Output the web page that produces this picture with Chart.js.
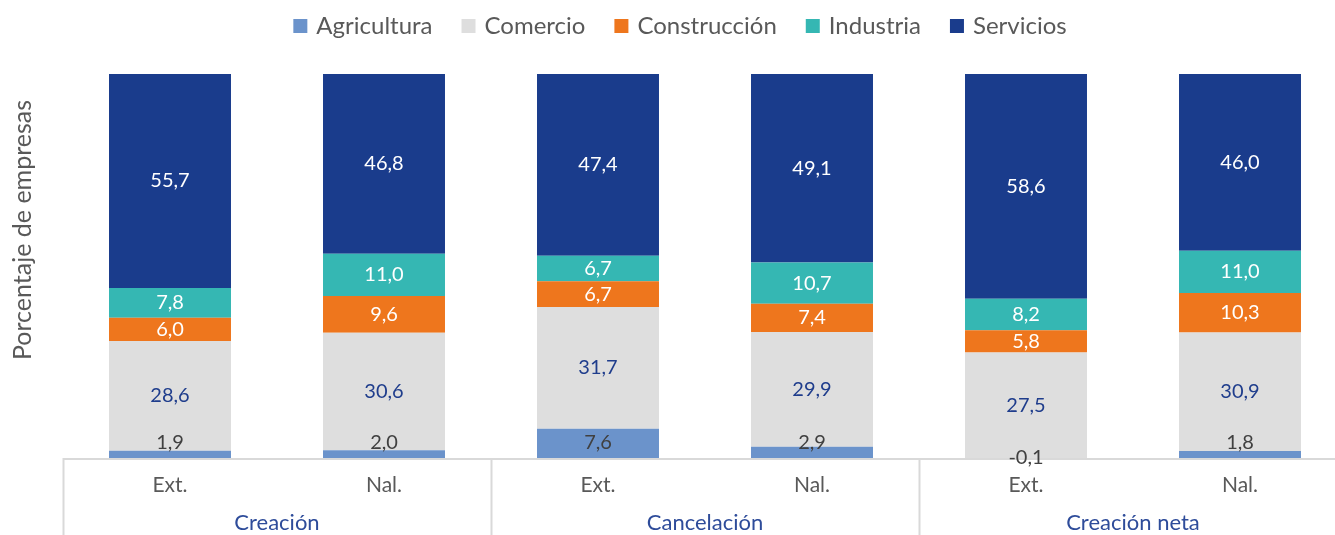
<!DOCTYPE html>
<html>
<head>
<meta charset="utf-8">
<script src="https://cdn.jsdelivr.net/npm/chart.js@4"></script>
<style>
html,body{margin:0;padding:0;background:#fff;overflow:hidden;}
#wrap{width:1348px;height:535px;position:relative;}
</style>
</head>
<body>
<div id="wrap"><canvas id="c" width="1348" height="535"></canvas></div>
<script>
const categories = ['Ext.', 'Nal.', 'Ext.', 'Nal.', 'Ext.', 'Nal.'];
const groups = ['Creación', 'Cancelación', 'Creación neta'];
const agricultura = [1.9, 2.0, 7.6, 2.9, -0.1, 1.8];
const comercio = [28.6, 30.6, 31.7, 29.9, 27.5, 30.9];
const construccion = [6.0, 9.6, 6.7, 7.4, 5.8, 10.3];
const industria = [7.8, 11.0, 6.7, 10.7, 8.2, 11.0];
const servicios = [55.7, 46.8, 47.4, 49.1, 58.6, 46.0];
const seriesNames = ['Agricultura', 'Comercio', 'Construcción', 'Industria', 'Servicios'];

const colors = ['#6B93CB', '#DEDEDE', '#EE761D', '#35B7B3', '#1A3C8C'];
const labelColors = ['#404040', '#1F3D8C', '#FFFFFF', '#FFFFFF', '#FFFFFF'];
const FONT = 'Lato, "Open Sans", sans-serif';

const fmt = v => v.toFixed(1).replace('.', ',');

const customDraw = {
  id: 'customDraw',
  beforeDatasetsDraw(chart) {
    const ctx = chart.ctx;
    const area = chart.chartArea;
    const xs = chart.scales.x;
    ctx.save();
    ctx.strokeStyle = '#D9D9D9';
    ctx.lineWidth = 2;
    ctx.beginPath();
    ctx.moveTo(area.left, area.bottom + 1);
    ctx.lineTo(area.right, area.bottom + 1);
    ctx.stroke();
    const step = (area.right - area.left) / categories.length;
    for (let g = 0; g <= groups.length; g++) {
      const x = Math.round(xs.getPixelForValue(g * 2) - step / 2) + 0.5;
      ctx.beginPath();
      ctx.moveTo(x, area.bottom);
      ctx.lineTo(x, chart.height);
      ctx.stroke();
    }
    ctx.restore();
  },
  afterDatasetsDraw(chart) {
    const ctx = chart.ctx;
    const area = chart.chartArea;
    const ys = chart.scales.y;
    const zero = ys.getPixelForValue(0);
    ctx.save();
    ctx.textAlign = 'center';
    ctx.textBaseline = 'middle';
    ctx.font = '20px ' + FONT;
    chart.data.datasets.forEach((ds, di) => {
      const meta = chart.getDatasetMeta(di);
      meta.data.forEach((el, i) => {
        const v = ds.data[i];
        let y;
        if (v < 0) {
          y = zero;
        } else {
          y = (el.y + el.base) / 2;
          y = Math.min(y, area.bottom - 15);
        }
        ctx.fillStyle = labelColors[di];
        ctx.fillText(fmt(v), el.x, y);
      });
    });
    ctx.restore();
  },
  afterDraw(chart) {
    const ctx = chart.ctx;
    const area = chart.chartArea;
    const xs = chart.scales.x;
    ctx.save();
    ctx.textAlign = 'center';
    ctx.textBaseline = 'middle';
    ctx.font = '21px ' + FONT;
    ctx.fillStyle = '#595959';
    categories.forEach((c, i) => {
      ctx.fillText(c, xs.getPixelForValue(i), area.bottom + 27);
    });
    ctx.font = '22px ' + FONT;
    ctx.fillStyle = '#2E4C9A';
    groups.forEach((g, gi) => {
      const x = (xs.getPixelForValue(gi * 2) + xs.getPixelForValue(gi * 2 + 1)) / 2;
      ctx.fillText(g, x, area.bottom + 65);
    });
    ctx.save();
    ctx.translate(23, 230);
    ctx.rotate(-Math.PI / 2);
    ctx.font = '25px ' + FONT;
    ctx.fillStyle = '#595959';
    ctx.fillText('Porcentaje de empresas', 0, 0);
    ctx.restore();
    ctx.font = '24px ' + FONT;
    const box = 14, gapText = 9, gapItem = 29;
    const widths = seriesNames.map(n => ctx.measureText(n).width);
    const total = widths.reduce((a, b) => a + b, 0) + seriesNames.length * (box + gapText) + (seriesNames.length - 1) * gapItem;
    let x = 680 - total / 2;
    const ly = 26;
    ctx.textAlign = 'left';
    seriesNames.forEach((n, i) => {
      ctx.fillStyle = colors[i];
      ctx.fillRect(x, ly - box / 2, box, box);
      x += box + gapText;
      ctx.fillStyle = '#595959';
      ctx.fillText(n, x, ly);
      x += widths[i] + gapItem;
    });
    ctx.restore();
  }
};

const seriesData = [agricultura, comercio, construccion, industria, servicios];

new Chart(document.getElementById('c'), {
  type: 'bar',
  data: {
    labels: categories,
    datasets: seriesNames.map((n, i) => ({
      label: n,
      data: seriesData[i],
      backgroundColor: colors[i],
      borderWidth: 0,
      barPercentage: 0.57,
      categoryPercentage: 1.0
    }))
  },
  options: {
    responsive: false,
    animation: false,
    devicePixelRatio: 1,
    layout: { padding: { left: 63, right: 1, top: 74, bottom: 77 } },
    plugins: { legend: { display: false }, tooltip: { enabled: false } },
    scales: {
      x: { display: false, stacked: true },
      y: { display: false, stacked: true, min: 0, max: 100 }
    }
  },
  plugins: [customDraw]
});
</script>
</body>
</html>
